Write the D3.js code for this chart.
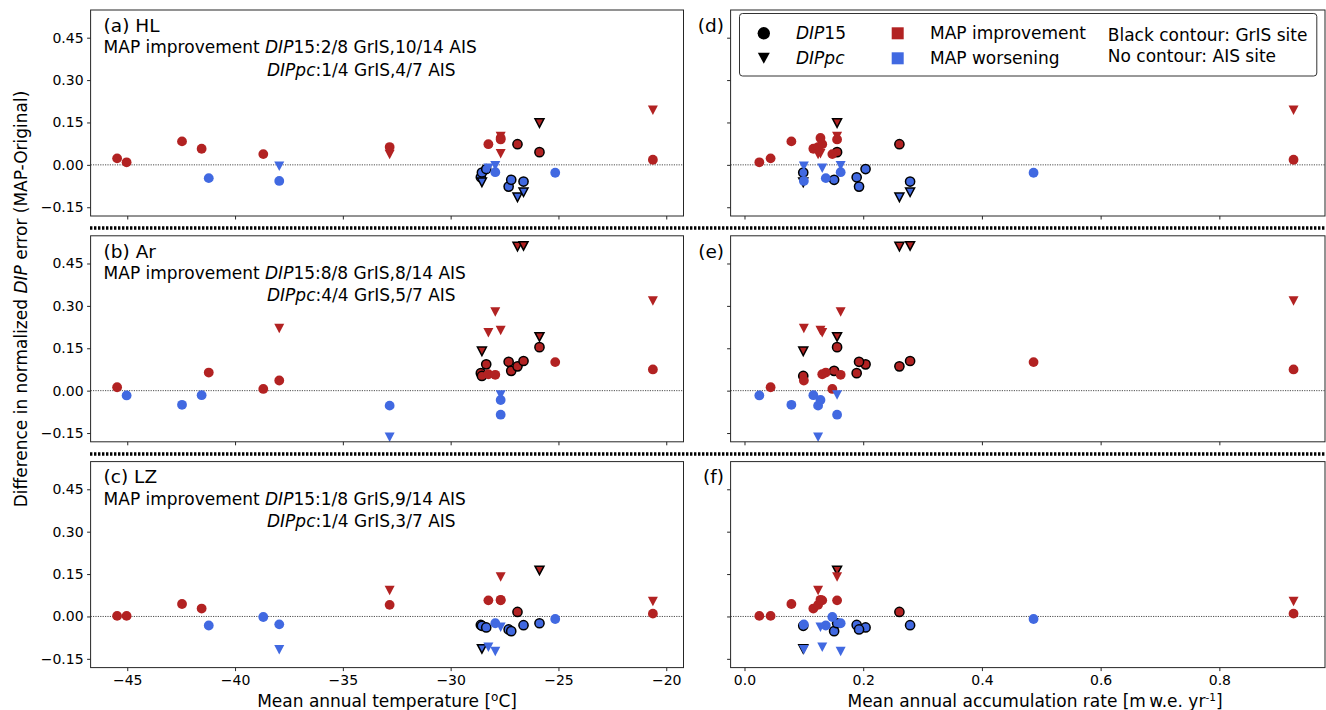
<!DOCTYPE html>
<html>
<head>
<meta charset="utf-8">
<script src="https://cdn.jsdelivr.net/npm/d3@7"></script>
<style>
  body { margin: 0; background: #fff; }
  svg { display: block; font-family: "DejaVu Sans", sans-serif; }
</style>
</head>
<body>
<svg id="chart" width="1326" height="710"></svg>
<script>
// tick values and labels
const tempTicks = [-45, -40, -35, -30, -25, -20];
const tempTickLabels = ["−45", "−40", "−35", "−30", "−25", "−20"];
const accumTicks = [0.0, 0.2, 0.4, 0.6, 0.8];
const accumTickLabels = ["0.0", "0.2", "0.4", "0.6", "0.8"];
const diffTicks = [-0.15, 0.0, 0.15, 0.30, 0.45];
const diffTickLabels = ["−0.15", "0.00", "0.15", "0.30", "0.45"];

// panel texts
const methods = ["HL", "Ar", "LZ"];
const leftLetters = ["(a)", "(b)", "(c)"];
const rightLetters = ["(d)", "(e)", "(f)"];
const dip15Counts = ["2/8 GrIS,10/14 AIS", "8/8 GrIS,8/14 AIS", "1/8 GrIS,9/14 AIS"];
const dippcCounts = ["1/4 GrIS,4/7 AIS", "4/4 GrIS,5/7 AIS", "1/4 GrIS,3/7 AIS"];

// GrIS sites, DIP15
const grisTemp = [-28.60, -28.55, -28.35, -27.31, -27.19, -26.90, -26.62, -25.88];
const grisAccum = [0.189, 0.099, 0.204, 0.193, 0.151, 0.261, 0.279, 0.156];
const grisDip15HL = [-0.044, -0.027, -0.015, -0.077, -0.053, 0.073, -0.059, 0.045];
const grisDip15Ar = [0.062, 0.052, 0.093, 0.102, 0.070, 0.086, 0.105, 0.154];
const grisDip15LZ = [-0.030, -0.033, -0.039, -0.046, -0.052, 0.016, -0.031, -0.024];

// GrIS sites, DIPpc
const grisPcTemp = [-28.55, -26.90, -26.62, -25.88];
const grisPcAccum = [0.099, 0.261, 0.279, 0.156];
const grisPcHL = [-0.062, -0.115, -0.097, 0.148];
const grisPcAr = [0.139, 0.510, 0.512, 0.190];
const grisPcLZ = [-0.115, null, null, 0.163];

// AIS sites, DIP15
const aisTemp = [-45.47, -45.03, -42.46, -41.55, -41.22, -38.69, -37.95, -32.83, -25.15, -20.62, -28.25, -27.93, -27.68, -27.68];
const aisAccum = [0.044, 0.025, 0.079, 0.116, 0.137, 0.148, 0.100, 0.124, 0.487, 0.925, 0.131, 0.162, 0.128, 0.156];
const aisDip15HL = [0.023, 0.009, 0.083, 0.057, -0.047, 0.038, -0.057, 0.063, -0.028, 0.018, 0.073, -0.026, 0.095, 0.090];
const aisDip15Ar = [0.012, -0.017, -0.050, -0.016, 0.064, 0.006, 0.036, -0.053, 0.101, 0.075, 0.058, 0.056, -0.033, -0.085];
const aisDip15LZ = [0.002, 0.002, 0.044, 0.028, -0.032, -0.002, -0.028, 0.041, -0.009, 0.010, 0.057, -0.024, 0.059, 0.057];

// AIS sites, DIPpc
const aisPcTemp = [-37.95, -32.83, -20.62, -28.25, -27.93, -27.68, -27.68];
const aisPcAccum = [0.100, 0.124, 0.925, 0.131, 0.162, 0.128, 0.156];
const aisPcHL = [-0.005, 0.037, 0.193, -0.012, -0.003, 0.039, 0.100];
const aisPcAr = [0.220, -0.165, 0.317, 0.205, 0.278, 0.213, -0.015];
const aisPcLZ = [-0.118, 0.092, 0.053, -0.109, -0.124, -0.038, 0.140];

// legend
const legendMarkers = ["circle", "triangle"];
const legendColors = ["MAP improvement", "MAP worsening"];
const legendNotes = ["Black contour: GrIS site", "No contour: AIS site"];

const colorUp = "#b22222";
const colorDown = "#4169e1";
const frameColor = "#262626";

const svg = d3.select("#chart");

const leftRange = [90.6, 683.5];
const rightRange = [730.6, 1325];
const rowTops = [10, 235.8, 461.6];
const rowHeight = 206;

const xTemp = d3.scaleLinear().domain([-46.7, -19.2]).range(leftRange);
const xAccum = d3.scaleLinear().domain([-0.0234, 0.978]).range(rightRange);

const rowSeries = [
  {gris15: grisDip15HL, grisPc: grisPcHL, ais15: aisDip15HL, aisPc: aisPcHL},
  {gris15: grisDip15Ar, grisPc: grisPcAr, ais15: aisDip15Ar, aisPc: aisPcAr},
  {gris15: grisDip15LZ, grisPc: grisPcLZ, ais15: aisDip15LZ, aisPc: aisPcLZ}
];

const triangleDown = (w, h) => `M${-w / 2},${-h / 2}L${w / 2},${-h / 2}L0,${h / 2}Z`;
const fillFor = v => v > 0 ? colorUp : colorDown;

const toPoints = (xs, vs) => xs.map((x, i) => ({x: x, v: vs[i]})).filter(d => d.v !== null);

const drawCircles = (g, x, y, pts, contour) => {
  g.append("g")
    .selectAll("circle")
    .data(pts)
    .join("circle")
    .attr("cx", d => x(d.x))
    .attr("cy", d => y(d.v))
    .attr("r", contour ? 4.6 : 4.9)
    .attr("fill", d => fillFor(d.v))
    .attr("stroke", contour ? "#000" : "none")
    .attr("stroke-width", 1.5);
};

const drawTriangles = (g, x, y, pts, contour) => {
  g.append("g")
    .selectAll("path")
    .data(pts)
    .join("path")
    .attr("transform", d => `translate(${x(d.x)},${y(d.v)})`)
    .attr("d", contour ? triangleDown(9, 8.5) : triangleDown(10, 9.5))
    .attr("fill", d => fillFor(d.v))
    .attr("stroke", contour ? "#000" : "none")
    .attr("stroke-width", 1.5)
    .attr("stroke-linejoin", "miter");
};

const styleAxis = sel => {
  sel.select(".domain").remove();
  sel.selectAll(".tick line").attr("stroke", frameColor).attr("stroke-width", 1);
  sel.selectAll(".tick text")
    .attr("fill", "#000")
    .attr("font-size", 14)
    .attr("font-family", "DejaVu Sans");
};

const drawPanel = (row, side) => {
  const top = rowTops[row];
  const isLeft = side === "left";
  const range = isLeft ? leftRange : rightRange;
  const x = isLeft ? xTemp : xAccum;
  const y = d3.scaleLinear().domain([-0.181, 0.548]).range([top + rowHeight, top]);
  const s = rowSeries[row];
  const g = svg.append("g");

  g.append("line")
    .attr("x1", range[0]).attr("x2", range[1])
    .attr("y1", y(0)).attr("y2", y(0))
    .attr("stroke", "#222")
    .attr("stroke-width", 0.8)
    .attr("stroke-dasharray", "1.2,1.2");

  drawCircles(g, x, y, toPoints(isLeft ? grisTemp : grisAccum, s.gris15), true);
  drawTriangles(g, x, y, toPoints(isLeft ? grisPcTemp : grisPcAccum, s.grisPc), true);
  drawCircles(g, x, y, toPoints(isLeft ? aisTemp : aisAccum, s.ais15), false);
  drawTriangles(g, x, y, toPoints(isLeft ? aisPcTemp : aisPcAccum, s.aisPc), false);

  const showX = row === 2;
  g.append("g")
    .attr("transform", `translate(0,${top + rowHeight})`)
    .call(d3.axisBottom(x)
      .tickValues(isLeft ? tempTicks : accumTicks)
      .tickSize(3.5).tickPadding(3.5)
      .tickFormat((d, i) => showX ? (isLeft ? tempTickLabels[i] : accumTickLabels[i]) : ""))
    .call(styleAxis);

  g.append("g")
    .attr("transform", `translate(${range[0]},0)`)
    .call(d3.axisLeft(y)
      .tickValues(diffTicks)
      .tickSize(3.5).tickPadding(3.5)
      .tickFormat((d, i) => isLeft ? diffTickLabels[i] : ""))
    .call(styleAxis);

  g.append("rect")
    .attr("x", range[0]).attr("y", top)
    .attr("width", range[1] - range[0]).attr("height", rowHeight)
    .attr("fill", "none")
    .attr("stroke", frameColor)
    .attr("stroke-width", 1);

  if (isLeft) {
    g.append("text")
      .attr("x", 103.6).attr("y", top + 21.7)
      .attr("font-size", 18.5)
      .text(`${leftLetters[row]} ${methods[row]}`);

    const l1 = g.append("text").attr("x", 103.6).attr("y", top + 43).attr("font-size", 17);
    l1.append("tspan").text("MAP improvement ");
    l1.append("tspan").attr("font-style", "italic").text("DIP");
    l1.append("tspan").text(`15:${dip15Counts[row]}`);

    const l2 = g.append("text").attr("x", 267).attr("y", top + 65.5).attr("font-size", 17);
    l2.append("tspan").attr("font-style", "italic").text("DIPpc");
    l2.append("tspan").text(`:${dippcCounts[row]}`);
  } else {
    g.append("text")
      .attr("x", 724).attr("y", top + 21.7)
      .attr("text-anchor", "end")
      .attr("font-size", 18.5)
      .text(rightLetters[row]);
  }
};

[0, 1, 2].forEach(r => { drawPanel(r, "left"); drawPanel(r, "right"); });

// thick dotted separators between rows
[228, 454].forEach(yy => {
  svg.append("line")
    .attr("x1", 90).attr("x2", 1326)
    .attr("y1", yy).attr("y2", yy)
    .attr("stroke", "#000")
    .attr("stroke-width", 3.3)
    .attr("stroke-dasharray", "2.4,1.6");
});

// axis labels
const yLab = svg.append("text")
  .attr("transform", "translate(27,299) rotate(-90)")
  .attr("text-anchor", "middle")
  .attr("font-size", 17);
yLab.append("tspan").text("Difference in normalized ");
yLab.append("tspan").attr("font-style", "italic").text("DIP");
yLab.append("tspan").text(" error (MAP-Original)");

const xLab1 = svg.append("text")
  .attr("x", (leftRange[0] + leftRange[1]) / 2).attr("y", 707)
  .attr("text-anchor", "middle")
  .attr("font-size", 17);
xLab1.append("tspan").text("Mean annual temperature [");
xLab1.append("tspan").attr("font-size", 12).attr("dy", -6).text("o");
xLab1.append("tspan").attr("dy", 6).text("C]");

const xLab2 = svg.append("text")
  .attr("x", 1035).attr("y", 707)
  .attr("text-anchor", "middle")
  .attr("font-size", 17);
xLab2.append("tspan").text("Mean annual accumulation rate [m\u2009w.e. yr");
xLab2.append("tspan").attr("font-size", 10.5).attr("dy", -6.5).text("-1");
xLab2.append("tspan").attr("dy", 6.5).text("]");

// legend
const lg = svg.append("g");
lg.append("rect")
  .attr("x", 739.5).attr("y", 13.5)
  .attr("width", 577.3).attr("height", 62.5)
  .attr("rx", 3)
  .attr("fill", "#fff")
  .attr("stroke", "#333")
  .attr("stroke-width", 1);

const legendRows = [33.3, 58.3];
legendMarkers.forEach((m, i) => {
  const cy = legendRows[i];
  if (m === "circle") {
    lg.append("circle").attr("cx", 763.8).attr("cy", cy).attr("r", 6.2).attr("fill", "#000");
  } else {
    lg.append("path").attr("transform", `translate(763.8,${cy})`).attr("d", triangleDown(12, 11)).attr("fill", "#000");
  }
  const t = lg.append("text").attr("x", 796).attr("y", cy + 6).attr("font-size", 17);
  t.append("tspan").attr("font-style", "italic").text(i === 0 ? "DIP" : "DIPpc");
  if (i === 0) t.append("tspan").text("15");
});

legendColors.forEach((label, i) => {
  const cy = legendRows[i];
  lg.append("rect")
    .attr("x", 897.7 - 6).attr("y", cy - 6)
    .attr("width", 12).attr("height", 12)
    .attr("fill", i === 0 ? colorUp : colorDown);
  lg.append("text").attr("x", 930).attr("y", cy + 6).attr("font-size", 17).text(label);
});

legendNotes.forEach((note, i) => {
  lg.append("text").attr("x", 1107.8).attr("y", 41 + i * 20.5).attr("font-size", 17).text(note);
});
</script>
</body>
</html>
